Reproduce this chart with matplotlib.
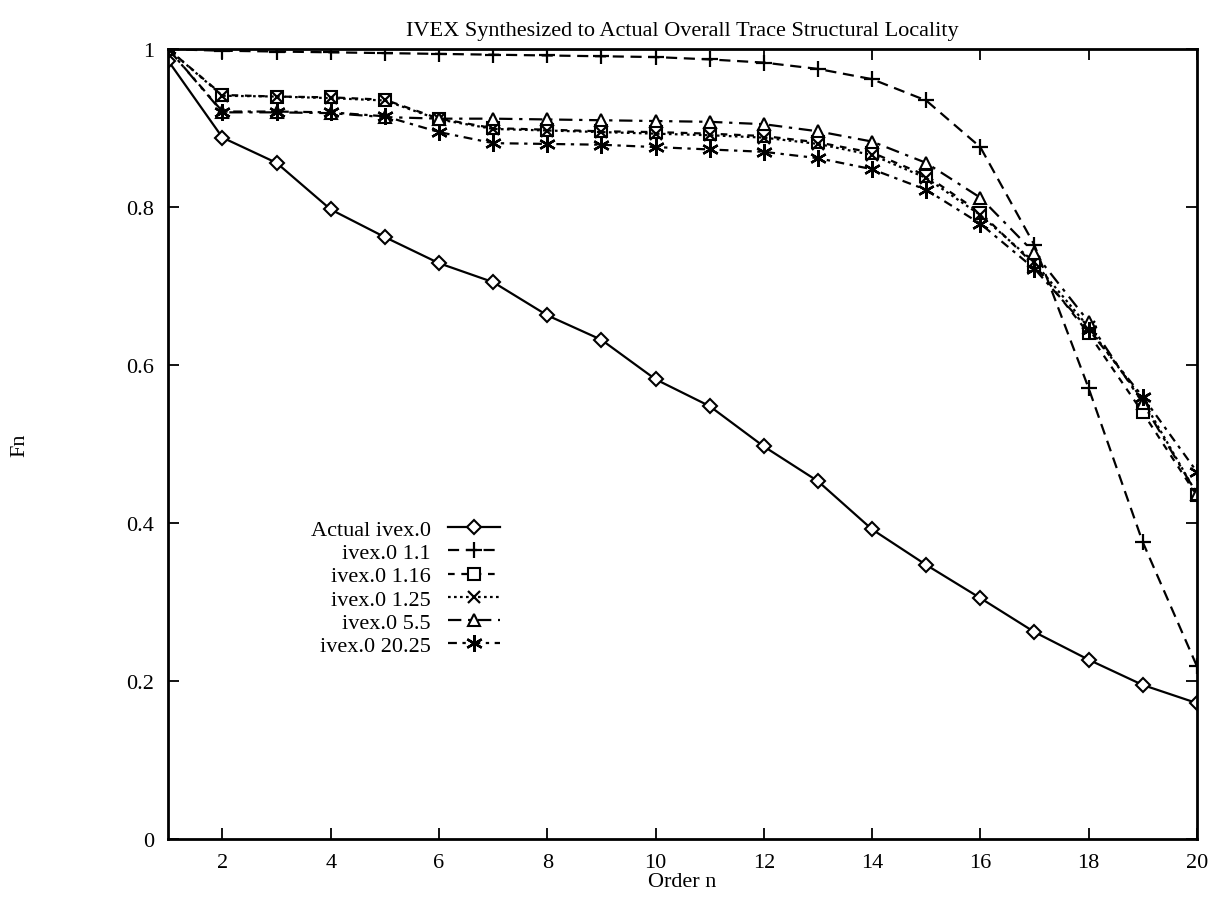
import numpy as np
import matplotlib
matplotlib.use("Agg")
import matplotlib.pyplot as plt

plt.rcParams['font.family'] = ['Liberation Serif', 'DejaVu Serif']

# order n
order = list(range(1, 21))

# Fn values
actual = [0.985, 0.888, 0.856, 0.797, 0.762, 0.729, 0.705, 0.663, 0.632, 0.582,
          0.548, 0.497, 0.453, 0.392, 0.347, 0.305, 0.262, 0.227, 0.195, 0.172]
s_1_1 = [1.0, 0.998, 0.997, 0.996, 0.995, 0.994, 0.993, 0.992, 0.991, 0.990,
         0.987, 0.983, 0.975, 0.962, 0.935, 0.876, 0.752, 0.571, 0.376, 0.219]
s_1_16 = [1.0, 0.942, 0.940, 0.939, 0.936, 0.912, 0.900, 0.898, 0.896, 0.895,
          0.893, 0.890, 0.882, 0.869, 0.840, 0.793, 0.727, 0.640, 0.540, 0.435]
s_1_25 = [1.0, 0.941, 0.940, 0.938, 0.935, 0.911, 0.899, 0.897, 0.895, 0.893,
          0.891, 0.888, 0.880, 0.866, 0.837, 0.790, 0.730, 0.648, 0.556, 0.437]
s_5_5 = [1.0, 0.920, 0.920, 0.919, 0.914, 0.912, 0.912, 0.911, 0.910, 0.909,
         0.908, 0.905, 0.896, 0.883, 0.856, 0.812, 0.742, 0.655, 0.552, 0.437]
s_20_25 = [1.0, 0.921, 0.921, 0.920, 0.915, 0.895, 0.881, 0.880, 0.879, 0.876,
           0.873, 0.870, 0.862, 0.848, 0.822, 0.779, 0.722, 0.645, 0.560, 0.465]

labels = ["Actual ivex.0", "ivex.0 1.1", "ivex.0 1.16", "ivex.0 1.25",
          "ivex.0 5.5", "ivex.0 20.25"]

fig = plt.figure(figsize=(12.2, 9.12), dpi=100)
ax = fig.add_axes([0.138, 0.079, 0.843, 0.866])

lw = 1.6
ms = 8.5
ax.plot(order, actual, color='black', lw=lw, ls='-', marker='D', ms=7,
        mfc='white', mew=1.5, label=labels[0])
ax.plot(order, s_1_1, color='black', lw=lw, ls=(0, (5, 3)), marker='+', ms=12,
        mew=1.6, label=labels[1])
ax.plot(order, s_1_16, color='black', lw=lw, ls=(0, (3, 3)), marker='s', ms=ms,
        mfc='white', mew=1.5, label=labels[2])
ax.plot(order, s_1_25, color='black', lw=lw, ls=(0, (1.2, 1.5)), marker='x', ms=ms,
        mew=1.6, label=labels[3])
ax.plot(order, s_5_5, color='black', lw=lw, ls=(0, (6, 3, 1.5, 3)), marker='^', ms=ms,
        mfc='white', mew=1.5, label=labels[4])
ax.plot(order, s_20_25, color='black', lw=lw, ls=(0, (4, 2.5, 1.5, 2.5)), marker=(6, 2, 0),
        ms=12, mew=1.7, label=labels[5])

ax.set_xlim(1, 20)
ax.set_ylim(0, 1)
ax.set_xticks(range(2, 21, 2))
ax.set_yticks([0, 0.2, 0.4, 0.6, 0.8, 1.0])
ax.set_yticklabels(["0", "0.2", "0.4", "0.6", "0.8", "1"])
ax.tick_params(direction='in', length=8, width=1.3, top=True, right=True,
               labelsize=16, pad=10)
for sp in ax.spines.values():
    sp.set_linewidth(2)

ax.set_title("IVEX Synthesized to Actual Overall Trace Structural Locality",
             fontsize=16, pad=10)
ax.set_xlabel("Order n", fontsize=16, labelpad=0)
ax.set_ylabel("Fn", fontsize=16)
ax.yaxis.set_label_coords(-0.135, 0.5)

leg = ax.legend(loc='center right', bbox_to_anchor=(0.322, 0.318), frameon=False,
                markerfirst=False, fontsize=16, handlelength=2.3, handletextpad=0.8,
                labelspacing=0.12, borderpad=0, borderaxespad=0, numpoints=1)

fig.savefig("out.png", dpi=100)
